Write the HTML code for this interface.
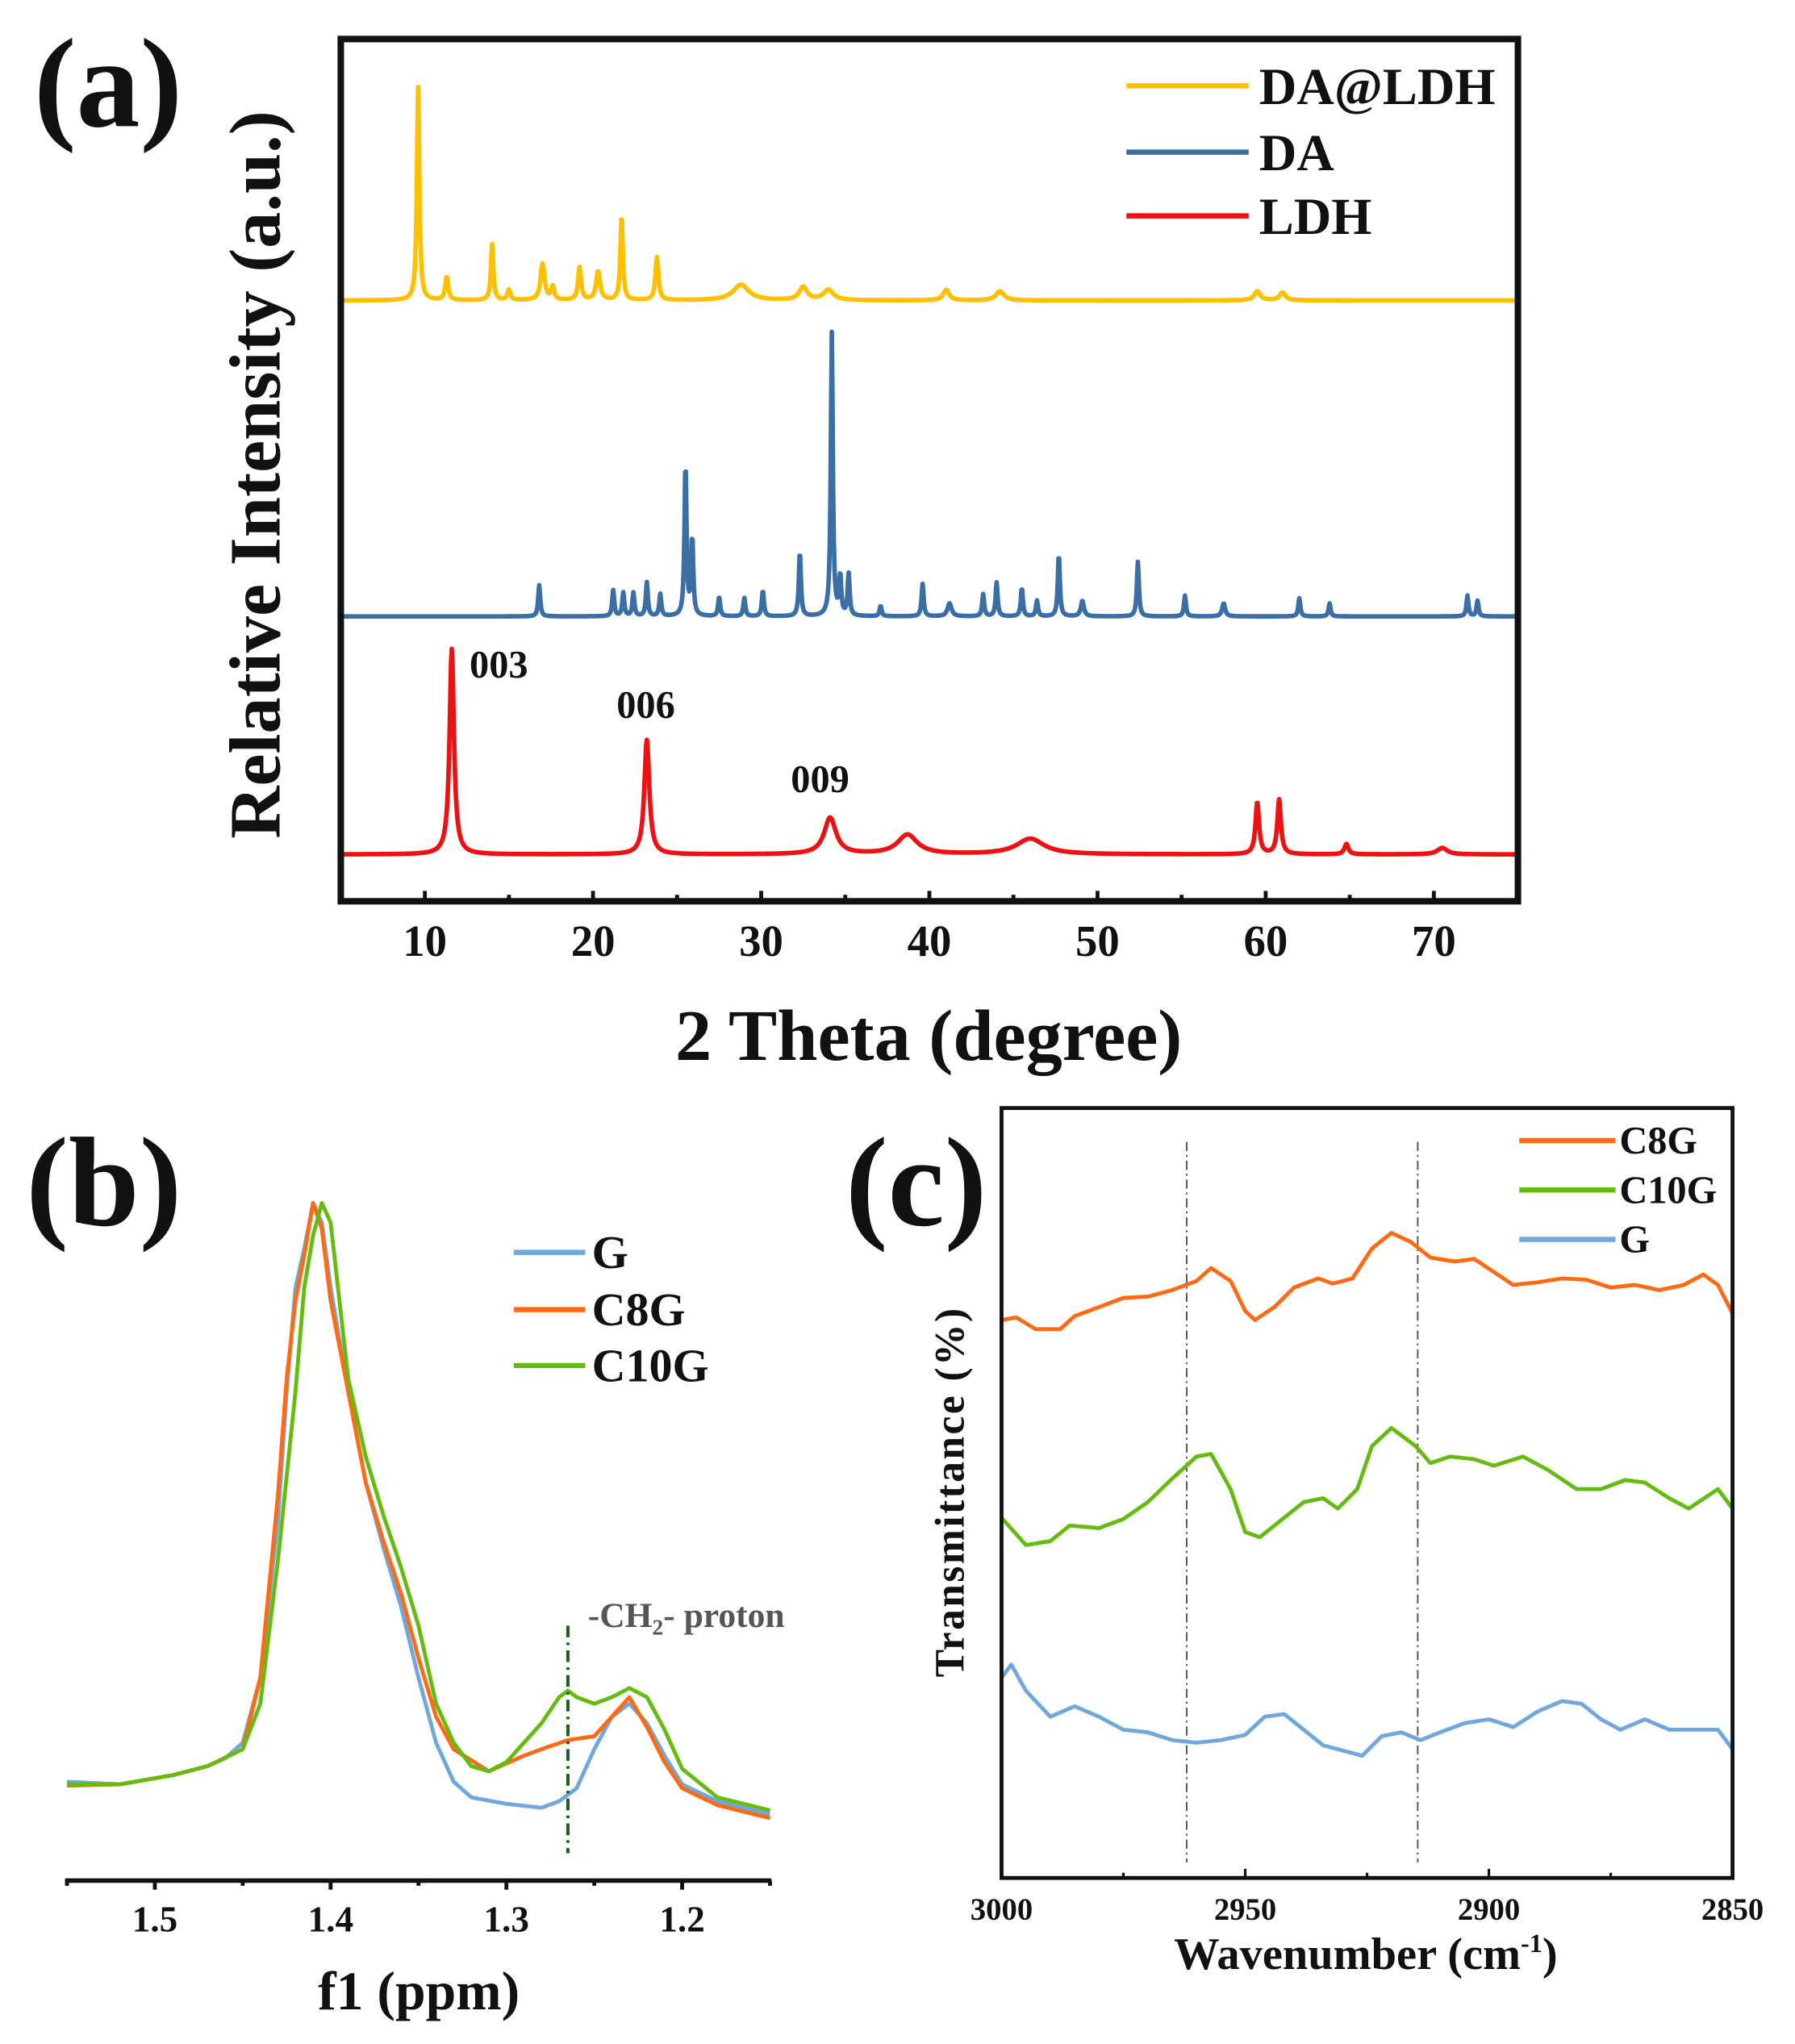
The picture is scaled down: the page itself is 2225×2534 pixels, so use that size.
<!DOCTYPE html>
<html><head><meta charset="utf-8"><style>
html,body{margin:0;padding:0;background:#fff;}
svg{display:block;}
text{font-family:"Liberation Serif",serif;font-weight:bold;fill:#111;}
</style></head><body>
<svg id="fig" width="2225" height="2534" viewBox="0 0 2225 2534" xmlns="http://www.w3.org/2000/svg">
<g id="root" transform="scale(1.6123)"></g>
</svg>
<script>
// ---------- Panel (a) XRD data: [position (deg), height, width] ----------
const xrdTicks = [10,20,30,40,50,60,70];
const daLdhPeaks = [[9.6,164,0.12],[11.3,18,0.15],[14,43,0.12],[15,8,0.15],[17,28,0.2],[17.6,10,0.15],[19.2,25,0.15],[20.3,22,0.2],[21.7,65,0.12],[23.8,33,0.15],[28.8,12,0.8],[32.5,10,0.4],[34,8,0.5],[41,8,0.3],[44.2,7,0.4],[59.5,7,0.3],[61,6,0.3]];
const daPeaks = [[16.8,24,0.1],[21.2,20,0.1],[21.8,18,0.1],[22.4,18,0.1],[23.2,26,0.1],[24,17,0.1],[25.5,118,0.1],[25.9,60,0.1],[27.5,15,0.1],[29,14,0.1],[30.1,20,0.1],[32.3,50,0.1],[34.2,218,0.1],[34.7,30,0.1],[35.2,32,0.1],[37.1,8,0.1],[39.6,25,0.1],[41.2,10,0.2],[43.2,17,0.1],[44,26,0.1],[45.5,22,0.1],[46.4,12,0.1],[47.7,48,0.1],[49.1,12,0.15],[52.4,42,0.1],[55.2,16,0.1],[57.5,10,0.15],[62,14,0.1],[63.8,10,0.1],[72,16,0.1],[72.6,12,0.1]];
const ldhPeaks = [[11.6,158,0.22],[23.2,88,0.25],[34.1,28,0.6],[38.7,15,1.0],[46,12,1.4],[59.5,40,0.18],[60.8,42,0.18],[64.8,8,0.2],[70.5,5,0.5]];
const xrdBaselines = [231,474,657];
const xrdNames = ['DA@LDH','DA','LDH'];
const xrdColors = ['#ffc000','#3a6ea5','#ee1111'];

// ---------- Panel (b) NMR data ----------
const nmrTicks = [1.5,1.4,1.3,1.2];
const nmrGx = [1.55,1.52,1.49,1.47,1.46,1.45,1.44,1.43,1.425,1.42,1.415,1.41,1.405,1.40,1.39,1.38,1.37,1.36,1.35,1.34,1.33,1.32,1.30,1.28,1.27,1.26,1.25,1.24,1.23,1.22,1.21,1.20,1.18,1.15];
const nmrGy = [1370,1372,1365,1358,1352,1340,1290,1170,1070,990,960,925,940,990,1070,1140,1190,1235,1290,1340,1370,1382,1387,1390,1385,1375,1345,1320,1310,1325,1350,1372,1385,1395];
const nmrC8x = [1.55,1.52,1.49,1.47,1.45,1.44,1.43,1.425,1.42,1.415,1.41,1.405,1.40,1.39,1.38,1.37,1.36,1.35,1.34,1.33,1.31,1.29,1.28,1.265,1.25,1.24,1.23,1.22,1.21,1.20,1.18,1.15];
const nmrC8y = [1373,1372,1365,1358,1345,1290,1150,1060,1000,965,925,945,1000,1070,1140,1185,1225,1275,1320,1345,1362,1350,1345,1338,1335,1320,1305,1328,1355,1375,1388,1398];
const nmrC10x = [1.55,1.52,1.49,1.47,1.45,1.44,1.43,1.42,1.415,1.41,1.405,1.40,1.395,1.39,1.38,1.37,1.36,1.35,1.34,1.33,1.32,1.31,1.30,1.29,1.28,1.27,1.265,1.26,1.25,1.24,1.23,1.22,1.21,1.20,1.18,1.15];
const nmrC10y = [1372,1372,1365,1358,1345,1310,1200,1070,990,950,925,940,1000,1060,1120,1165,1205,1250,1310,1340,1358,1362,1355,1340,1325,1305,1300,1305,1310,1305,1298,1305,1330,1360,1382,1392];

// ---------- Panel (c) FTIR data ----------
const irTicks = [3000,2950,2900,2850];
const irC8x = [3000,2997,2993,2988,2985,2980,2975,2970,2965,2960,2957,2953,2950,2948,2944,2940,2935,2932,2928,2924,2920,2916,2912,2907,2903,2899,2895,2890,2885,2880,2875,2870,2865,2860,2856,2853,2850];
const irC8y = [1015,1013,1022,1022,1012,1005,998,997,992,985,975,985,1008,1015,1005,990,983,987,983,960,948,955,967,970,968,978,988,986,983,984,990,988,992,988,980,988,1010];
const irC10x = [3000,2995,2990,2986,2980,2975,2970,2965,2960,2957,2953,2950,2947,2943,2938,2934,2931,2927,2924,2920,2915,2912,2908,2903,2899,2893,2888,2882,2877,2872,2868,2863,2859,2855,2853,2850];
const irC10y = [1167,1188,1185,1173,1175,1168,1155,1137,1120,1118,1145,1178,1182,1170,1155,1152,1160,1145,1112,1098,1112,1125,1120,1122,1127,1120,1130,1145,1145,1138,1140,1152,1160,1150,1145,1160];
const irGx = [3000,2998,2995,2990,2985,2980,2975,2970,2965,2960,2955,2950,2946,2942,2938,2934,2930,2926,2922,2918,2914,2910,2905,2900,2895,2890,2885,2881,2877,2873,2868,2863,2858,2853,2850];
const irGy = [1290,1280,1300,1320,1312,1320,1330,1332,1338,1340,1338,1334,1320,1318,1330,1342,1346,1350,1335,1332,1338,1332,1325,1322,1328,1316,1308,1310,1322,1330,1322,1330,1330,1330,1345];

const NS='http://www.w3.org/2000/svg';
const root=document.getElementById('root');
function mk(tag,attrs,parent){const e=document.createElementNS(NS,tag);for(const k in attrs)e.setAttribute(k,attrs[k]);(parent||root).appendChild(e);return e;}
function txt(s,x,y,size,parent,extra){const e=mk('text',Object.assign({x:x,y:y,'font-size':size},extra||{}),parent);e.textContent=s;return e;}

// ===== Panel (a) =====
const ax=v=>262+(v-5)/70*905;
const lblA=txt('(a)',26,97,98);


xrdBaselines.forEach((b,i)=>{
  const peaks=[daLdhPeaks,daPeaks,ldhPeaks][i];
  let d='';
  for(let t=5;t<=75.001;t+=0.04){
    let h=0;
    for(const p of peaks){const z=(t-p[0])/p[2];h+=p[1]/(1+z*z*2);}
    d+=(d?'L':'M')+ax(t).toFixed(2)+','+(b-h).toFixed(2);
  }
  const pth=mk('path',{d:d,fill:'none',stroke:xrdColors[i],'stroke-width':3.5,'stroke-linejoin':'round'});
  
  
});
const frA=mk('rect',{x:262,y:30,width:905,height:663,fill:'none',stroke:'#111','stroke-width':5});


for(let v=5;v<=75;v+=5){const major=xrdTicks.includes(v);mk('line',{x1:ax(v),x2:ax(v),y1:693,y2:693-(major?8:5),stroke:'#111','stroke-width':3});}
xrdTicks.forEach(v=>{const t=txt(String(v),ax(v),735,34,null,{'text-anchor':'middle'});
  
  });
const xtA=txt('2 Theta (degree)',714,815,56,null,{'text-anchor':'middle'});


const ytA=txt('Relative Intensity (a.u.)',0,0,56,null,{'text-anchor':'middle',transform:'translate(215,365) rotate(-90)'});


[['003',361,521],['006',474,552],['009',608,609]].forEach(a=>{const t=txt(a[0],a[1],a[2],30);
  
  });
[66,117,166].forEach((y,i)=>{
  const g=mk('g',{});
  
  
  mk('line',{x1:866,x2:960,y1:y,y2:y,stroke:xrdColors[i],'stroke-width':4},g);
  txt(xrdNames[i],968,y+14,40,g);
});

// ===== Panel (b) =====
const bx=v=>51.5+(1.55-v)/0.4*540.5;
const lblB=txt('(b)',20,942,98);


const nmrCols=['#6fa8dc','#ff6a13','#66bb11'];
const nmrNames=['g','c8g','c10g'];
[[nmrGx,nmrGy],[nmrC8x,nmrC8y],[nmrC10x,nmrC10y]].forEach((s,i)=>{
  const d=s[0].map((x,j)=>(j?'L':'M')+bx(x).toFixed(2)+','+s[1][j]).join('');
  const p=mk('path',{d:d,fill:'none',stroke:nmrCols[i],'stroke-width':3,'stroke-linejoin':'round'});
  
  
});
const dl=mk('line',{x1:bx(1.265),x2:bx(1.265),y1:1250,y2:1425,stroke:'#1e5e1e','stroke-width':2.5,'stroke-dasharray':'9,4,2,4'});


const ch=mk('text',{x:452,y:1251,'font-size':27,style:'fill:#555'});


ch.innerHTML='-CH<tspan font-size="17" dy="6">2</tspan><tspan dy="-6">- proton</tspan>';
const axB=mk('line',{x1:50,x2:593,y1:1446,y2:1446,stroke:'#111','stroke-width':3.5});


for(let v=1.15;v<=1.551;v+=0.05){const major=nmrTicks.some(t=>Math.abs(t-v)<1e-6);mk('line',{x1:bx(v),x2:bx(v),y1:1446,y2:1446+(major?7:4),stroke:'#111','stroke-width':3});}
nmrTicks.forEach(v=>{const t=txt(v.toFixed(1),bx(v),1485,28,null,{'text-anchor':'middle'});
  
  });
const xtB=txt('f1 (ppm)',322,1545,42,null,{'text-anchor':'middle'});


const nmrLeg=['G','C8G','C10G'];
[963,1007,1050].forEach((y,i)=>{
  const g=mk('g',{});
  
  
  mk('line',{x1:395,x2:450,y1:y,y2:y,stroke:nmrCols[i],'stroke-width':4},g);
  txt(nmrLeg[i],455,y+12,36,g);
});

// ===== Panel (c) =====
const cx=v=>770+(3000-v)/150*562;
const lblC=txt('(c)',650,942,98);


[2962,2914.6].forEach(v=>{const l=mk('line',{x1:cx(v),x2:cx(v),y1:878,y2:1432,stroke:'#555','stroke-width':1.2,'stroke-dasharray':'7,3,1.5,3'});
  
  });
const irCols=['#ff6a13','#66bb11','#6fa8dc'];
const irNames=['c8g','c10g','g'];
[[irC8x,irC8y],[irC10x,irC10y],[irGx,irGy]].forEach((s,i)=>{
  const d=s[0].map((x,j)=>(j?'L':'M')+cx(x).toFixed(2)+','+s[1][j]).join('');
  const p=mk('path',{d:d,fill:'none',stroke:irCols[i],'stroke-width':3,'stroke-linejoin':'round'});
  
  
});
const frC=mk('rect',{x:770,y:852,width:562,height:592,fill:'none',stroke:'#111','stroke-width':3});


for(let v=2850;v<=3000;v+=25){const major=irTicks.includes(v);mk('line',{x1:cx(v),x2:cx(v),y1:1444,y2:1444-(major?7:4),stroke:'#111','stroke-width':2});}
irTicks.forEach(v=>{const t=txt(String(v),cx(v),1476,24,null,{'text-anchor':'middle'});
  
  });
const xtC=mk('text',{x:1050,y:1514,'font-size':35,'text-anchor':'middle'});


xtC.innerHTML='Wavenumber (cm<tspan font-size="20" dy="-13">-1</tspan><tspan dy="13">)</tspan>';
const ytC=txt('Transmittance (%)',0,0,32,null,{'text-anchor':'middle',transform:'translate(741,1147) rotate(-90)','letter-spacing':'1.5'});


const irLeg=['C8G','C10G','G'];
[877,915,953].forEach((y,i)=>{
  const g=mk('g',{});
  
  
  mk('line',{x1:1168,x2:1242,y1:y,y2:y,stroke:irCols[i],'stroke-width':4},g);
  txt(irLeg[i],1245,y+10,30,g);
});
</script>
</body></html>
